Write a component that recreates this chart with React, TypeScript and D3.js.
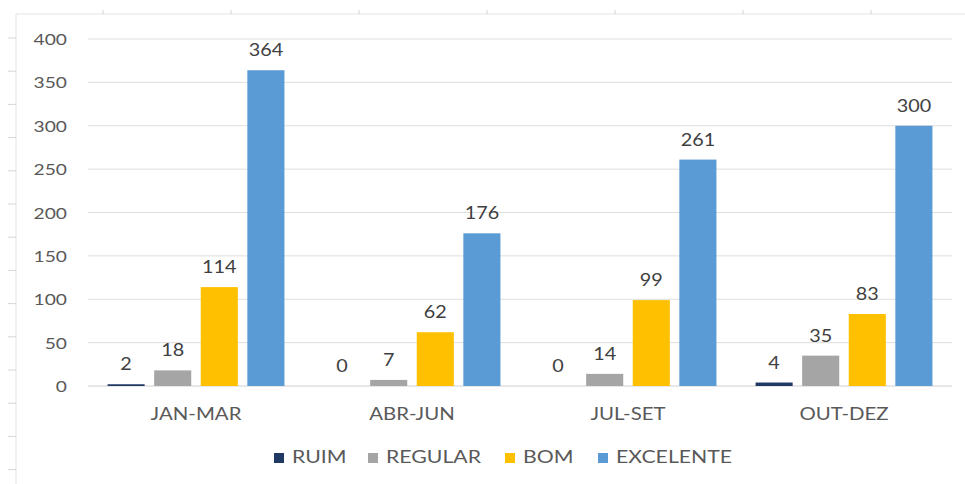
import { useRef, useEffect } from "react";
import * as d3 from "d3";

const categories = ["JAN-MAR", "ABR-JUN", "JUL-SET", "OUT-DEZ"];
const seriesNames = ["RUIM", "REGULAR", "BOM", "EXCELENTE"];
const ruim = [2, 0, 0, 4];
const regular = [18, 7, 14, 35];
const bom = [114, 62, 99, 83];
const excelente = [364, 176, 261, 300];
const yTicks = [0, 50, 100, 150, 200, 250, 300, 350, 400];

const colors = ["#1F3864", "#A5A5A5", "#FFC000", "#5B9BD5"];
const FONT = "Lato, 'Open Sans', sans-serif";
// the source screenshot is stretched sideways a bit
const SX = 1.2;

const App: React.FC = () => {
  const svgRef = useRef<SVGSVGElement | null>(null);

  useEffect(() => {
    if (!svgRef.current) return;
    const svg = d3.select(svgRef.current);
    svg.selectAll("*").remove();

    const W = 965;
    const H = 484;
    const left = 88;
    const right = 952;
    const y0 = 386;
    const yTop = 39;

    const values = [ruim, regular, bom, excelente];

    // faint outer frame from the screenshot
    svg.append("line").attr("x1", 16).attr("x2", W).attr("y1", 14).attr("y2", 14)
      .attr("stroke", "#e3e3e3");
    svg.append("line").attr("x1", 16).attr("x2", 16).attr("y1", 14).attr("y2", H)
      .attr("stroke", "#e3e3e3");
    d3.range(38, H, 33.2).forEach((ty) => {
      svg.append("line").attr("x1", 8).attr("x2", 16).attr("y1", ty).attr("y2", ty)
        .attr("stroke", "#d6d6d6");
    });
    d3.range(103, W, 128).forEach((tx) => {
      svg.append("line").attr("x1", tx).attr("x2", tx).attr("y1", 10).attr("y2", 14)
        .attr("stroke", "#d6d6d6");
    });

    const x = d3.scaleBand<string>().domain(categories).range([left, right]);
    const y = d3.scaleLinear().domain([0, 400]).range([y0, yTop]);
    const xInner = d3.scaleBand<string>().domain(seriesNames)
      .range([0, x.bandwidth()]).paddingInner(0.204).paddingOuter(0.42);

    // gridlines
    svg.append("g").selectAll("line").data(yTicks).join("line")
      .attr("x1", left).attr("x2", right)
      .attr("y1", (d) => y(d)).attr("y2", (d) => y(d))
      .attr("stroke", (d) => (d === 0 ? "#d0d0d0" : "#dedede"))
      .attr("stroke-width", 1);

    const place = (px: number, py: number, sx = SX) => `translate(${px},${py}) scale(${sx},1)`;

    // y labels
    svg.append("g").selectAll("text").data(yTicks).join("text")
      .attr("transform", (d) => place(67, y(d) + 6))
      .attr("text-anchor", "end")
      .attr("font-family", FONT).attr("font-size", 16).attr("fill", "#595959")
      .text((d) => d);

    // bars + labels
    seriesNames.forEach((s, si) => {
      const g = svg.append("g");
      g.selectAll("rect").data(categories).join("rect")
        .attr("x", (c) => (x(c) as number) + (xInner(s) as number))
        .attr("y", (c, i) => y(values[si][i]))
        .attr("width", xInner.bandwidth())
        .attr("height", (c, i) => Math.max(y0 - y(values[si][i]), 0))
        .attr("fill", colors[si]);
      g.selectAll("text").data(categories).join("text")
        .attr("transform", (c, i) =>
          place((x(c) as number) + (xInner(s) as number) + xInner.bandwidth() / 2, y(values[si][i]) - 14))
        .attr("text-anchor", "middle")
        .attr("font-family", FONT).attr("font-size", 16.5).attr("fill", "#404040")
        .text((c, i) => values[si][i]);
    });

    // category labels
    svg.append("g").selectAll("text").data(categories).join("text")
      .attr("transform", (c) => place((x(c) as number) + x.bandwidth() / 2, 420))
      .attr("text-anchor", "middle")
      .attr("font-family", FONT).attr("font-size", 17).attr("fill", "#595959")
      .text((c) => c);

    // legend
    const legendX = [274, 368, 505, 598];
    seriesNames.forEach((s, si) => {
      svg.append("rect").attr("x", legendX[si]).attr("y", 453)
        .attr("width", 10).attr("height", 10).attr("fill", colors[si]);
      svg.append("text").attr("transform", place(legendX[si] + 18, 463, 1.25))
        .attr("font-family", FONT).attr("font-size", 17).attr("fill", "#595959")
        .text(s);
    });
  }, []);

  return (
    <svg
      ref={svgRef}
      width={965}
      height={484}
      style={{ position: "absolute", left: 0, top: 0, background: "#fff" }}
    ></svg>
  );
};

export default App;
